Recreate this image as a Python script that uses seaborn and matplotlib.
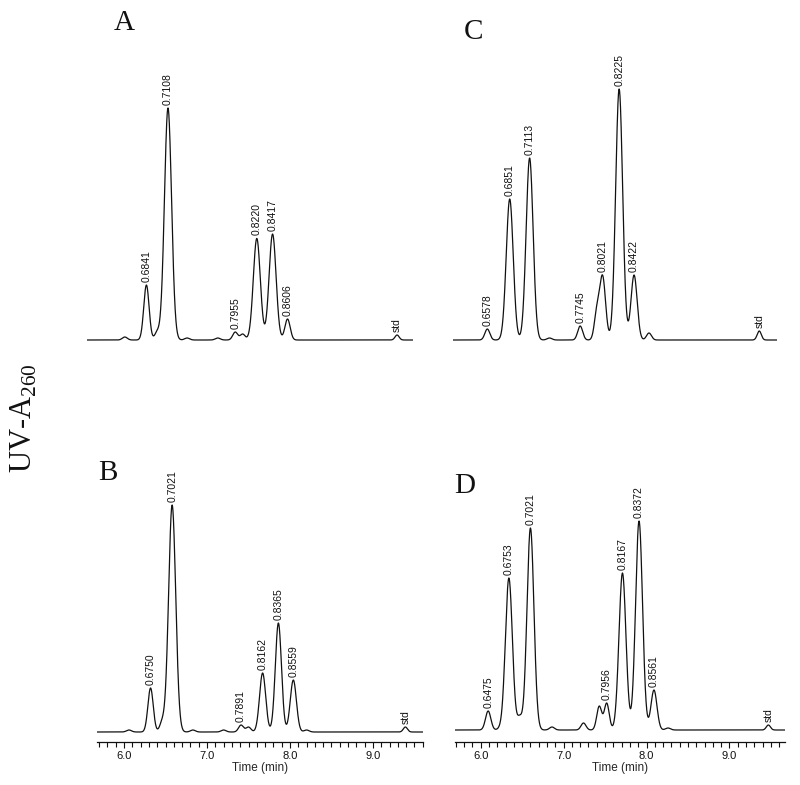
import numpy as np
import matplotlib
matplotlib.use("Agg")
import matplotlib.pyplot as plt
from matplotlib.ticker import MultipleLocator, FormatStrFormatter
import seaborn as sns

# peak data (time in min, height in arbitrary units)
a_times = [6.01, 6.27, 6.40, 6.53, 6.76, 7.13, 7.34, 7.43, 7.54, 7.60, 7.79, 7.97, 9.29]
a_heights = [3, 55, 10, 232, 2, 2, 8, 6, 25, 100, 106, 21, 5]
a_widths = [0.03, 0.032, 0.03, 0.043, 0.03, 0.03, 0.03, 0.03, 0.03, 0.042, 0.042, 0.032, 0.025]
a_labels = ["", "0.6841", "", "0.7108", "", "", "0.7955", "", "", "0.8220", "0.8417", "0.8606", "std"]

b_times = [6.06, 6.32, 6.46, 6.58, 6.83, 7.20, 7.41, 7.50, 7.67, 7.86, 8.04, 8.20, 9.39]
b_heights = [2, 44, 14, 227, 2, 2, 7, 5, 59, 109, 52, 2, 5]
b_widths = [0.03, 0.032, 0.03, 0.043, 0.03, 0.03, 0.03, 0.03, 0.037, 0.037, 0.037, 0.03, 0.025]
b_labels = ["", "0.6750", "", "0.7021", "", "", "0.7891", "", "0.8162", "0.8365", "0.8559", "", "std"]

c_times = [6.08, 6.35, 6.59, 6.83, 7.20, 7.40, 7.47, 7.67, 7.85, 8.03, 9.36]
c_heights = [11, 141, 182, 2, 14, 35, 65, 251, 65, 7, 9]
c_widths = [0.03, 0.042, 0.042, 0.03, 0.03, 0.03, 0.036, 0.042, 0.037, 0.03, 0.025]
c_labels = ["0.6578", "0.6851", "0.7113", "", "0.7745", "", "0.8021", "0.8225", "0.8422", "", "std"]

d_times = [6.09, 6.23, 6.34, 6.47, 6.60, 6.86, 7.24, 7.43, 7.52, 7.71, 7.91, 8.09, 8.26, 9.47]
d_heights = [19, 6, 152, 15, 202, 3, 7, 24, 27, 157, 209, 40, 2, 5]
d_widths = [0.032, 0.03, 0.042, 0.03, 0.042, 0.03, 0.03, 0.03, 0.03, 0.042, 0.042, 0.036, 0.03, 0.025]
d_labels = ["0.6475", "", "0.6753", "", "0.7021", "", "", "", "0.7956", "0.8167", "0.8372", "0.8561", "", "std"]

sns.set_style("white")
plt.rcParams["font.family"] = ["Liberation Sans", "DejaVu Sans"]
plt.rcParams["mathtext.fontset"] = "custom"
plt.rcParams["mathtext.rm"] = "Liberation Serif"

W, H = 800, 785
fig = plt.figure(figsize=(W / 100, H / 100), dpi=100)


def px_axes(l, t, r, b):
    return fig.add_axes([l / W, 1 - b / H, (r - l) / W, (b - t) / H])


def gauss(t, times, widths):
    return np.exp(-0.5 * ((t[:, None] - times[None, :]) / widths[None, :]) ** 2)


def draw_panel(ax, times, heights, widths, labels, xlim, ylim, bottom):
    times = np.asarray(times, float)
    widths = np.asarray(widths, float)
    # amplitudes so the summed trace passes through the read heights
    amp = np.linalg.solve(gauss(times, times, widths), np.asarray(heights, float))
    amp = np.clip(amp, 0, None)
    t = np.linspace(xlim[0], xlim[1], 2500)
    y = gauss(t, times, widths) @ amp
    sns.lineplot(x=t, y=y, ax=ax, color="#111111", linewidth=0.9)
    ytop = gauss(times, times, widths) @ amp
    for tx, yy, lab in zip(times, ytop, labels):
        if lab:
            ax.text(tx, yy + 3, lab, rotation=90, ha="center", va="bottom",
                    fontsize=7.5, color="#111111")
    ax.set_xlim(xlim)
    ax.set_ylim(ylim)
    ax.set_yticks([])
    ax.set_ylabel("")
    for s in ["top", "left", "right"]:
        ax.spines[s].set_visible(False)
    if bottom:
        ax.spines["bottom"].set_color("#111111")
        ax.spines["bottom"].set_linewidth(0.9)
        ax.xaxis.set_major_locator(MultipleLocator(1.0))
        ax.xaxis.set_minor_locator(MultipleLocator(0.1))
        ax.xaxis.set_major_formatter(FormatStrFormatter("%.1f"))
        ax.tick_params(axis="x", which="major", direction="out", length=4.5, width=0.8,
                       labelsize=8, pad=2, bottom=True, colors="#111111")
        ax.tick_params(axis="x", which="minor", direction="out", length=3.5, width=0.8,
                       bottom=True, colors="#111111")
        ax.set_xlabel("Time (min)", fontsize=8.5, labelpad=1)
    else:
        ax.spines["bottom"].set_visible(False)
        ax.set_xticks([])
        ax.set_xlabel("")


# left column: t = 6 + (px - 124) / 83 ; right column: t = 6 + (px - 480.7) / 82.9
def tl(px):
    return 6 + (px - 124) / 83


def tr(px):
    return 6 + (px - 480.7) / 82.9


ax_a = px_axes(87, 40, 413, 345)
draw_panel(ax_a, a_times, a_heights, a_widths, a_labels, (tl(87), tl(413)), (-5, 300), False)

ax_c = px_axes(453, 40, 777, 345)
draw_panel(ax_c, c_times, c_heights, c_widths, c_labels, (tr(453), tr(777)), (-5, 300), False)

ax_b = px_axes(97, 440, 423, 742)
draw_panel(ax_b, b_times, b_heights, b_widths, b_labels, (tl(97), tl(423)), (-10, 292), True)

ax_d = px_axes(455, 440, 785, 742)
draw_panel(ax_d, d_times, d_heights, d_widths, d_labels, (tr(455), tr(785)), (-12, 290), True)

for letter, x, y in [("A", 124, 23), ("C", 473, 32), ("B", 108, 473), ("D", 465, 486)]:
    fig.text(x / W, 1 - y / H, letter, family="Liberation Serif", fontsize=21,
             ha="center", va="center", color="#111111")

fig.text(24 / W, 1 - 418 / H, r"UV-A$_{\mathrm{260}}$", family="Liberation Serif",
         fontsize=22, rotation=90, ha="center", va="center", color="#111111")

fig.savefig("out.png", dpi=100)
